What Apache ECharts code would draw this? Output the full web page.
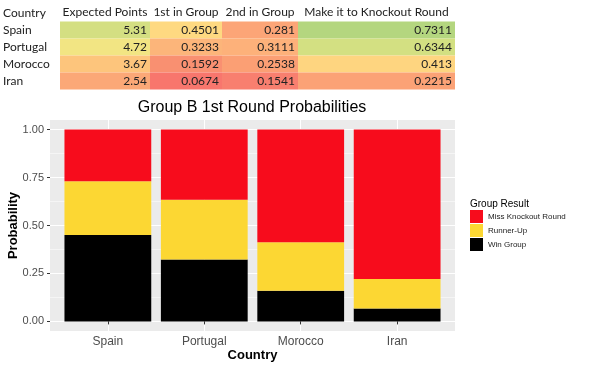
<!DOCTYPE html>
<html><head><meta charset="utf-8">
<script src="https://cdn.jsdelivr.net/npm/echarts@6/dist/echarts.min.js"></script>
<style>html,body{margin:0;padding:0;background:#fff}#c{width:600px;height:366px}</style>
</head><body><div id="c"></div>
<script>
// ---- data ----
const countries = ['Spain', 'Portugal', 'Morocco', 'Iran'];
const tableHeaders = ['Country', 'Expected Points', '1st in Group', '2nd in Group', 'Make it to Knockout Round'];
const expectedPoints = [5.31, 4.72, 3.67, 2.54];
const firstInGroup = [0.4501, 0.3233, 0.1592, 0.0674];
const secondInGroup = [0.281, 0.3111, 0.2538, 0.1541];
const makeKnockout = [0.7311, 0.6344, 0.413, 0.2215];
const missKnockout = [0.2689, 0.3656, 0.587, 0.7785];
const seriesNames = ['Win Group', 'Runner-Up', 'Miss Knockout Round'];
const yTicks = [0, 0.25, 0.5, 0.75, 1];
const yMinorTicks = [0.125, 0.375, 0.625, 0.875];
const xTicks = [1, 2, 3, 4];

// ---- styles ----
const cellColors = [
  ['#d4df82', '#f2e583', '#fdc57c', '#fba877'],
  ['#fed981', '#fcb57a', '#f99071', '#f8766d'],
  ['#fca577', '#fdb17a', '#fb9f74', '#f87f6f'],
  ['#b4d67f', '#d3e082', '#fed580', '#fba276']
];
const colLayout = [[60, 90], [150, 72], [222, 76], [298, 157]];
const barColors = ['#000000', '#FCD733', '#F70C1C'];
const tableFont = 'Lato';
const chartFont = 'Liberation Sans';

const tableValues = [expectedPoints, firstInGroup, secondInGroup, makeKnockout];
const barValues = [firstInGroup, secondInGroup, missKnockout];

// panel: 50..455 px for x range 0.4..4.6 ; bars grid covers 0.5..4.5
const panel = {left: 50, top: 120, width: 405, height: 211};
const unit = panel.width / 4.2;

const grids = [
  {left: panel.left, top: panel.top, width: panel.width, height: panel.height, show: true, backgroundColor: '#EBEBEB', borderWidth: 0, outerBoundsMode: 'none', containLabel: false},
  {left: panel.left + 0.1 * unit, top: panel.top, width: 4 * unit, height: panel.height, outerBoundsMode: 'none', containLabel: false}
];
const xAxes = [{
  gridIndex: 0, type: 'value', min: 0.4, max: 4.6,
  axisLine: {show: false},
  axisTick: {show: true, length: 3, lineStyle: {color: '#333'}, customValues: xTicks},
  axisLabel: {customValues: xTicks, formatter: v => countries[Math.round(v) - 1], fontSize: 12, color: '#4d4d4d', margin: 5, fontFamily: chartFont},
  splitLine: {show: true, lineStyle: {color: '#fff', width: 1}},
  name: 'Country', nameLocation: 'middle', nameGap: 18, nameMoveOverlap: false,
  nameTextStyle: {fontWeight: 'bold', fontSize: 13, color: '#000', fontFamily: chartFont}
}, {
  gridIndex: 1, type: 'category', data: countries, show: false, boundaryGap: true
}];
const yAxes = [{
  gridIndex: 0, type: 'value', min: -0.05, max: 1.05, position: 'left',
  axisLine: {show: false},
  axisTick: {show: true, length: 3, lineStyle: {color: '#333'}, customValues: yTicks},
  axisLabel: {customValues: yTicks, formatter: v => v.toFixed(2), fontSize: 11, color: '#4d4d4d', margin: 6, fontFamily: chartFont},
  splitLine: {show: true, lineStyle: {color: '#fff', width: 1}},
  name: 'Probability', nameLocation: 'middle', nameGap: 30, nameMoveOverlap: false,
  nameTextStyle: {fontWeight: 'bold', fontSize: 13, color: '#000', fontFamily: chartFont}
}, {
  gridIndex: 0, type: 'value', min: -0.05, max: 1.05, position: 'left',
  axisLine: {show: false},
  axisTick: {show: false, customValues: yMinorTicks},
  axisLabel: {show: false, customValues: yMinorTicks},
  splitLine: {show: true, lineStyle: {color: '#fff', width: 0.5}}
}, {
  gridIndex: 1, type: 'value', min: -0.05, max: 1.05, show: false
}];

const series = barValues.map((vals, k) => ({
  type: 'bar', name: seriesNames[k], stack: 'total',
  xAxisIndex: 1, yAxisIndex: 2, barWidth: 0.9 * unit,
  itemStyle: {color: barColors[k]},
  data: vals
}));

tableValues.forEach((vals, c) => {
  const gi = grids.length;
  grids.push({left: colLayout[c][0], width: colLayout[c][1], top: 21.5, height: 68, outerBoundsMode: 'none', containLabel: false});
  xAxes.push({
    gridIndex: gi, type: 'category', position: 'top', data: [tableHeaders[c + 1]],
    axisLine: {show: false}, axisTick: {show: false}, splitLine: {show: false},
    axisLabel: {fontSize: 12, color: '#222', margin: 3, fontFamily: tableFont}
  });
  yAxes.push({
    gridIndex: gi, type: 'category', inverse: true, data: countries,
    axisLine: {show: false}, axisTick: {show: false}, splitLine: {show: false},
    axisLabel: c === 0 ? {show: true, align: 'left', margin: 57, fontSize: 12, color: '#222', fontFamily: tableFont} : {show: false}
  });
  series.push({
    type: 'scatter', xAxisIndex: xAxes.length - 1, yAxisIndex: yAxes.length - 1, symbol: 'rect',
    symbolSize: [colLayout[c][1], 17],
    itemStyle: {opacity: 1},
    label: {show: true, position: 'insideRight', distance: 3, fontSize: 12, color: '#222', fontFamily: tableFont,
      formatter: p => String(p.value[2])},
    emphasis: {disabled: true},
    data: vals.map((v, r) => ({value: [0, r, v], itemStyle: {color: cellColors[c][r]}}))
  });
});

const chart = echarts.init(document.getElementById('c'));
chart.setOption({
  animation: false,
  backgroundColor: '#fff',
  title: [
    {text: 'Group B 1st Round Probabilities', left: 252, top: 100, textAlign: 'center', padding: 0,
      textStyle: {fontSize: 16, fontWeight: 'normal', color: '#000', fontFamily: chartFont}},
    {text: 'Group Result', left: 470, top: 199, padding: 0,
      textStyle: {fontSize: 10, fontWeight: 'normal', color: '#000', fontFamily: chartFont}},
    {text: tableHeaders[0], left: 3, top: 7, padding: 0,
      textStyle: {fontSize: 12, fontWeight: 'normal', color: '#222', fontFamily: tableFont}}
  ],
  legend: {
    orient: 'vertical', left: 470, top: 210, padding: 0,
    itemWidth: 13, itemHeight: 13, itemGap: 1, icon: 'rect', selectedMode: false,
    data: ['Miss Knockout Round', 'Runner-Up', 'Win Group'],
    textStyle: {fontSize: 8, color: '#222', fontFamily: chartFont}
  },
  grid: grids,
  xAxis: xAxes,
  yAxis: yAxes,
  series: series
});
</script></body></html>
